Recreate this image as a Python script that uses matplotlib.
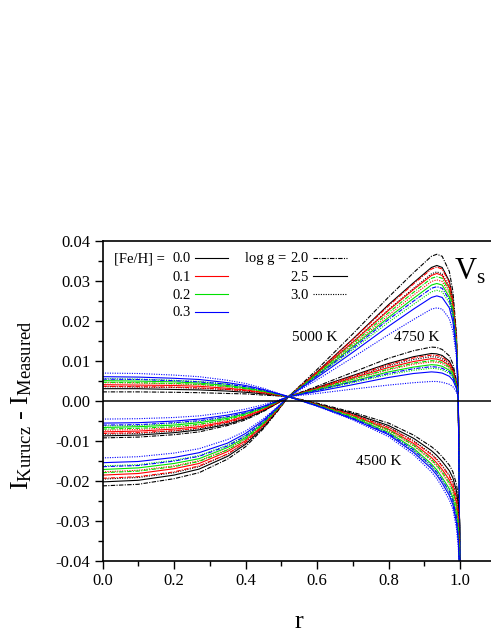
import matplotlib
matplotlib.use('Agg')
import matplotlib.pyplot as plt
from matplotlib.ticker import MultipleLocator, FormatStrFormatter

plt.rcParams['font.family'] = ['Liberation Serif', 'DejaVu Serif']
plt.rcParams['mathtext.fontset'] = 'custom'
plt.rcParams['mathtext.rm'] = 'Liberation Serif'
plt.rcParams['mathtext.it'] = 'Liberation Serif:italic'
plt.rcParams['axes.unicode_minus'] = False

# radius grid the curves were read at
r = [0.0, 0.1, 0.2, 0.27, 0.35, 0.4, 0.45, 0.49, 0.52, 0.6, 0.7, 0.8, 0.87,
     0.92, 0.935, 0.95, 0.97, 0.98, 0.99, 0.995, 1.0]

feh_vals = ['0.0', '0.1', '0.2', '0.3']
logg_vals = ['2.0', '2.5', '3.0']

# rows: [Fe/H]=0.0 (logg 2.0, 2.5, 3.0), 0.1 (...), 0.2 (...), 0.3 (...)
dI_5000 = [
    [-0.0213, -0.0209, -0.0195, -0.0180, -0.0146, -0.0115, -0.0070, -0.0026, 0.0010, 0.0078, 0.0167, 0.0259, 0.0320, 0.0361, 0.0366, 0.0361, 0.0323, 0.0273, 0.0167, 0.0017, -0.045],
    [-0.0203, -0.0199, -0.0186, -0.0171, -0.0139, -0.0109, -0.0067, -0.0024, 0.0010, 0.0072, 0.0154, 0.0240, 0.0295, 0.0333, 0.0338, 0.0333, 0.0299, 0.0253, 0.0154, 0.0017, -0.045],
    [-0.0196, -0.0192, -0.0180, -0.0165, -0.0134, -0.0105, -0.0064, -0.0023, 0.0010, 0.0069, 0.0147, 0.0228, 0.0281, 0.0317, 0.0322, 0.0317, 0.0285, 0.0241, 0.0147, 0.0016, -0.045],
    [-0.0194, -0.0190, -0.0178, -0.0163, -0.0133, -0.0104, -0.0063, -0.0023, 0.0010, 0.0072, 0.0153, 0.0237, 0.0292, 0.0329, 0.0334, 0.0329, 0.0295, 0.0250, 0.0153, 0.0016, -0.045],
    [-0.0186, -0.0182, -0.0170, -0.0157, -0.0127, -0.0100, -0.0061, -0.0021, 0.0010, 0.0069, 0.0146, 0.0226, 0.0278, 0.0313, 0.0318, 0.0313, 0.0281, 0.0238, 0.0146, 0.0016, -0.045],
    [-0.0178, -0.0174, -0.0163, -0.0150, -0.0122, -0.0095, -0.0058, -0.0020, 0.0010, 0.0066, 0.0138, 0.0214, 0.0264, 0.0298, 0.0302, 0.0298, 0.0267, 0.0226, 0.0138, 0.0016, -0.045],
    [-0.0180, -0.0176, -0.0165, -0.0152, -0.0123, -0.0096, -0.0058, -0.0020, 0.0010, 0.0067, 0.0142, 0.0220, 0.0271, 0.0306, 0.0310, 0.0306, 0.0274, 0.0232, 0.0142, 0.0016, -0.045],
    [-0.0172, -0.0168, -0.0157, -0.0145, -0.0117, -0.0092, -0.0056, -0.0019, 0.0010, 0.0064, 0.0135, 0.0208, 0.0256, 0.0289, 0.0293, 0.0289, 0.0259, 0.0219, 0.0135, 0.0016, -0.045],
    [-0.0163, -0.0160, -0.0149, -0.0137, -0.0111, -0.0087, -0.0052, -0.0018, 0.0010, 0.0061, 0.0127, 0.0196, 0.0241, 0.0272, 0.0276, 0.0272, 0.0244, 0.0207, 0.0127, 0.0015, -0.045],
    [-0.0165, -0.0162, -0.0151, -0.0139, -0.0113, -0.0088, -0.0053, -0.0018, 0.0010, 0.0062, 0.0131, 0.0203, 0.0249, 0.0281, 0.0285, 0.0281, 0.0252, 0.0214, 0.0131, 0.0016, -0.045],
    [-0.0155, -0.0152, -0.0142, -0.0130, -0.0106, -0.0082, -0.0049, -0.0016, 0.0010, 0.0058, 0.0121, 0.0186, 0.0229, 0.0258, 0.0262, 0.0258, 0.0232, 0.0197, 0.0121, 0.0015, -0.045],
    [-0.0143, -0.0140, -0.0131, -0.0120, -0.0097, -0.0076, -0.0045, -0.0015, 0.0010, 0.0052, 0.0108, 0.0165, 0.0203, 0.0229, 0.0232, 0.0229, 0.0205, 0.0174, 0.0108, 0.0014, -0.045],
]

dI_4750 = [
    [-0.0093, -0.0091, -0.0085, -0.0078, -0.0062, -0.0048, -0.0027, -0.0006, 0.0010, 0.0036, 0.0071, 0.0106, 0.0125, 0.0134, 0.0133, 0.0128, 0.0112, 0.0092, 0.0050, 0.0004, -0.045],
    [-0.0088, -0.0086, -0.0080, -0.0073, -0.0059, -0.0045, -0.0025, -0.0006, 0.0010, 0.0033, 0.0063, 0.0093, 0.0110, 0.0118, 0.0117, 0.0113, 0.0099, 0.0081, 0.0045, 0.0005, -0.045],
    [-0.0084, -0.0082, -0.0076, -0.0070, -0.0056, -0.0043, -0.0024, -0.0005, 0.0010, 0.0031, 0.0059, 0.0087, 0.0103, 0.0110, 0.0109, 0.0105, 0.0092, 0.0076, 0.0042, 0.0005, -0.045],
    [-0.0082, -0.0080, -0.0075, -0.0068, -0.0054, -0.0042, -0.0023, -0.0005, 0.0010, 0.0032, 0.0061, 0.0090, 0.0107, 0.0114, 0.0113, 0.0109, 0.0095, 0.0079, 0.0043, 0.0005, -0.045],
    [-0.0078, -0.0076, -0.0071, -0.0065, -0.0052, -0.0039, -0.0022, -0.0004, 0.0010, 0.0030, 0.0057, 0.0083, 0.0098, 0.0105, 0.0104, 0.0100, 0.0088, 0.0073, 0.0040, 0.0005, -0.045],
    [-0.0074, -0.0072, -0.0067, -0.0061, -0.0049, -0.0037, -0.0020, -0.0003, 0.0010, 0.0028, 0.0053, 0.0077, 0.0091, 0.0097, 0.0096, 0.0093, 0.0081, 0.0067, 0.0038, 0.0006, -0.045],
    [-0.0071, -0.0069, -0.0065, -0.0059, -0.0047, -0.0035, -0.0019, -0.0003, 0.0010, 0.0029, 0.0054, 0.0079, 0.0094, 0.0100, 0.0099, 0.0096, 0.0084, 0.0069, 0.0039, 0.0006, -0.045],
    [-0.0067, -0.0065, -0.0061, -0.0055, -0.0044, -0.0033, -0.0018, -0.0002, 0.0010, 0.0027, 0.0049, 0.0072, 0.0084, 0.0090, 0.0089, 0.0086, 0.0076, 0.0063, 0.0036, 0.0006, -0.045],
    [-0.0063, -0.0062, -0.0057, -0.0052, -0.0041, -0.0031, -0.0016, -0.0002, 0.0010, 0.0025, 0.0045, 0.0065, 0.0076, 0.0081, 0.0080, 0.0077, 0.0068, 0.0057, 0.0033, 0.0006, -0.045],
    [-0.0061, -0.0060, -0.0055, -0.0050, -0.0040, -0.0030, -0.0016, -0.0001, 0.0010, 0.0026, 0.0047, 0.0068, 0.0080, 0.0085, 0.0084, 0.0081, 0.0072, 0.0060, 0.0034, 0.0006, -0.045],
    [-0.0056, -0.0055, -0.0051, -0.0046, -0.0036, -0.0027, -0.0014, -0.0001, 0.0010, 0.0023, 0.0040, 0.0058, 0.0068, 0.0072, 0.0071, 0.0069, 0.0061, 0.0051, 0.0030, 0.0007, -0.045],
    [-0.0046, -0.0045, -0.0042, -0.0038, -0.0029, -0.0021, -0.0010, 0.0001, 0.0010, 0.0018, 0.0029, 0.0039, 0.0045, 0.0048, 0.0048, 0.0046, 0.0041, 0.0035, 0.0022, 0.0008, -0.045],
]

dI_4500 = [
    [0.0022, 0.0022, 0.0021, 0.0020, 0.0018, 0.0017, 0.0014, 0.0012, 0.0010, -0.0006, -0.0029, -0.0056, -0.0086, -0.0115, -0.0126, -0.0140, -0.0161, -0.0178, -0.0209, -0.0240, -0.045],
    [0.0030, 0.0030, 0.0028, 0.0027, 0.0024, 0.0021, 0.0017, 0.0013, 0.0010, -0.0008, -0.0032, -0.0062, -0.0094, -0.0125, -0.0137, -0.0152, -0.0175, -0.0193, -0.0226, -0.0260, -0.045],
    [0.0035, 0.0034, 0.0033, 0.0031, 0.0028, 0.0024, 0.0019, 0.0014, 0.0010, -0.0009, -0.0034, -0.0066, -0.0100, -0.0133, -0.0146, -0.0162, -0.0186, -0.0205, -0.0240, -0.0276, -0.045],
    [0.0036, 0.0035, 0.0034, 0.0032, 0.0028, 0.0025, 0.0019, 0.0014, 0.0010, -0.0009, -0.0035, -0.0067, -0.0102, -0.0135, -0.0148, -0.0164, -0.0189, -0.0208, -0.0244, -0.0280, -0.045],
    [0.0040, 0.0039, 0.0038, 0.0036, 0.0031, 0.0027, 0.0021, 0.0015, 0.0010, -0.0010, -0.0037, -0.0071, -0.0107, -0.0142, -0.0156, -0.0172, -0.0198, -0.0218, -0.0256, -0.0294, -0.045],
    [0.0045, 0.0044, 0.0042, 0.0040, 0.0035, 0.0030, 0.0023, 0.0016, 0.0010, -0.0011, -0.0040, -0.0075, -0.0113, -0.0150, -0.0164, -0.0182, -0.0209, -0.0230, -0.0270, -0.0310, -0.045],
    [0.0046, 0.0045, 0.0043, 0.0041, 0.0035, 0.0030, 0.0023, 0.0016, 0.0010, -0.0010, -0.0039, -0.0073, -0.0111, -0.0147, -0.0161, -0.0178, -0.0205, -0.0226, -0.0265, -0.0304, -0.045],
    [0.0050, 0.0049, 0.0047, 0.0044, 0.0038, 0.0032, 0.0024, 0.0016, 0.0010, -0.0012, -0.0042, -0.0079, -0.0119, -0.0158, -0.0173, -0.0192, -0.0220, -0.0242, -0.0284, -0.0326, -0.045],
    [0.0055, 0.0054, 0.0051, 0.0048, 0.0042, 0.0035, 0.0026, 0.0017, 0.0010, -0.0013, -0.0044, -0.0083, -0.0125, -0.0165, -0.0181, -0.0200, -0.0230, -0.0253, -0.0296, -0.0340, -0.045],
    [0.0054, 0.0053, 0.0050, 0.0047, 0.0041, 0.0035, 0.0026, 0.0017, 0.0010, -0.0012, -0.0044, -0.0082, -0.0123, -0.0163, -0.0179, -0.0198, -0.0227, -0.0250, -0.0293, -0.0336, -0.045],
    [0.0060, 0.0059, 0.0056, 0.0053, 0.0045, 0.0038, 0.0028, 0.0018, 0.0010, -0.0013, -0.0046, -0.0085, -0.0129, -0.0170, -0.0186, -0.0206, -0.0237, -0.0260, -0.0305, -0.0350, -0.045],
    [0.0069, 0.0068, 0.0064, 0.0060, 0.0051, 0.0043, 0.0031, 0.0019, 0.0010, -0.0014, -0.0048, -0.0090, -0.0135, -0.0178, -0.0195, -0.0216, -0.0248, -0.0272, -0.0319, -0.0366, -0.045],
]

temp_labels = ['5000 K', '4750 K', '4500 K']
temp_label_pos = [(0.594, 0.0157), (0.878, 0.0159), (0.772, -0.0153)]

colors = ['black', '#ff0000', '#00e000', '#0000ff']
styles = [(0, (4, 1.2, 1, 1.2)), '-', (0, (1, 1.2))]

fig = plt.figure(figsize=(4.91, 6.35), dpi=100)
ax = fig.add_axes([0.2088, 0.117, 0.801, 0.504])

for block in [dI_5000, dI_4750, dI_4500]:
    for i, row in enumerate(block):
        ax.plot(r, row, color=colors[i // 3], ls=styles[i % 3], lw=0.8)

ax.axhline(0, color='black', lw=1.1)

ax.set_xlim(0, 1.1)
ax.set_ylim(-0.04, 0.04)
ax.xaxis.set_major_locator(MultipleLocator(0.2))
ax.xaxis.set_minor_locator(MultipleLocator(0.1))
ax.yaxis.set_major_locator(MultipleLocator(0.01))
ax.yaxis.set_minor_locator(MultipleLocator(0.005))
ax.xaxis.set_major_formatter(FormatStrFormatter('%.1f'))
ax.yaxis.set_major_formatter(FormatStrFormatter('%.2f'))
ax.tick_params(which='major', direction='out', length=6, width=1, labelsize=12, pad=3)
ax.tick_params(which='minor', direction='out', length=3.5, width=1)
ax.tick_params(top=False, right=False)
for sp in ax.spines.values():
    sp.set_linewidth(1.2)

ax.set_xlabel('r', fontsize=19)
ax.xaxis.label.set_va('center')
ax.xaxis.set_label_coords(0.5, -0.19)
ax.set_ylabel(r'$\mathrm{I_{Kurucz}}$ - $\mathrm{I_{Measured}}$', fontsize=19)
ax.yaxis.label.set_va('center')
ax.yaxis.set_label_coords(-0.205, 0.485)

for lab, (x, y) in zip(temp_labels, temp_label_pos):
    ax.text(x, y, lab, fontsize=11, ha='center', va='center')

ax.text(0.934, 0.902, r'$\mathrm{V_s}$', fontsize=22, ha='center', va='center',
        transform=ax.transAxes)

# legend built by hand
rows_y = [0.943, 0.886, 0.830, 0.774]
ax.text(0.029, rows_y[0], '[Fe/H] =', fontsize=10.5, va='center', transform=ax.transAxes)
for k, lab in enumerate(feh_vals):
    ax.text(0.177, rows_y[k], lab, fontsize=10.5, va='center', transform=ax.transAxes)
    ax.plot([0.235, 0.32], [rows_y[k] + 0.004] * 2, color=colors[k], lw=0.8,
            transform=ax.transAxes)
ax.text(0.362, rows_y[0], 'log g =', fontsize=10.5, va='center', transform=ax.transAxes)
for k, lab in enumerate(logg_vals):
    ax.text(0.477, rows_y[k], lab, fontsize=10.5, va='center', transform=ax.transAxes)
    ax.plot([0.535, 0.622], [rows_y[k] + 0.004] * 2, color='black', ls=styles[k], lw=0.8,
            transform=ax.transAxes)

fig.savefig('out.png', dpi=100)
